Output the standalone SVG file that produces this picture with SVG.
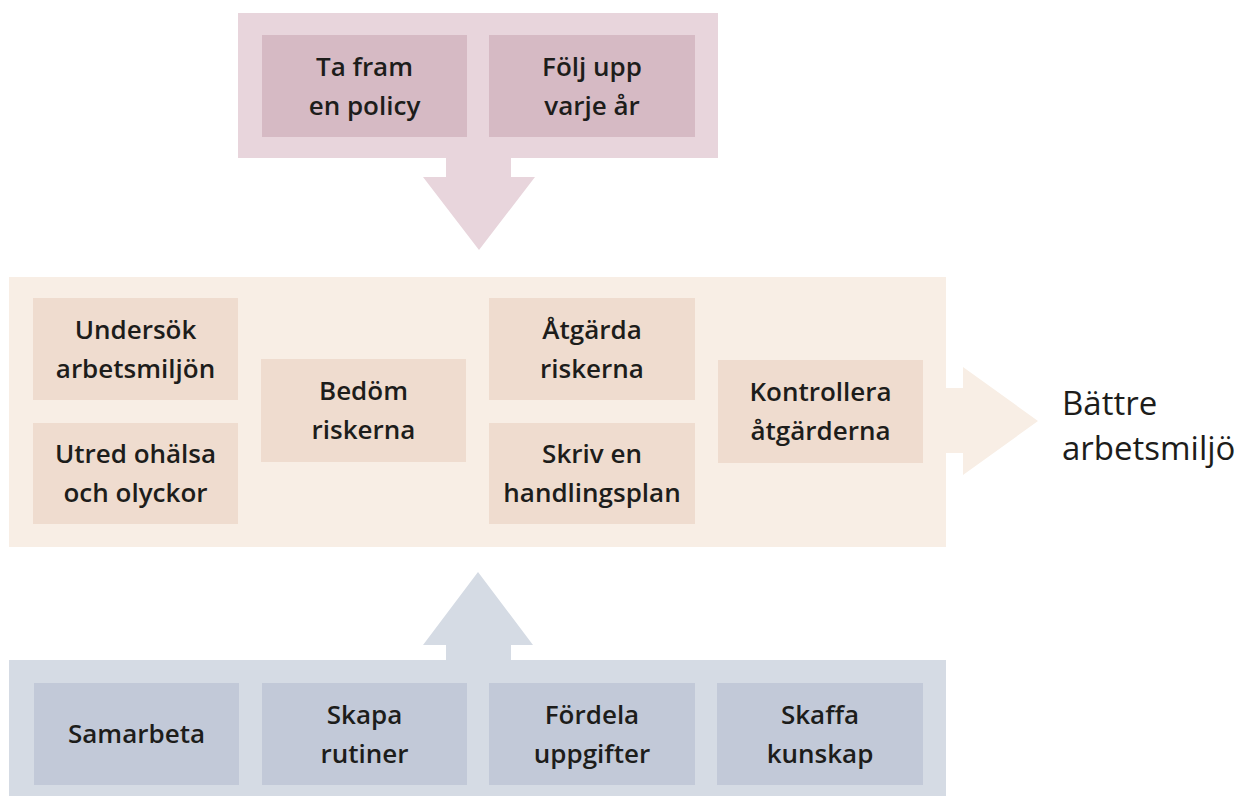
<svg xmlns="http://www.w3.org/2000/svg" width="1242" height="798" viewBox="0 0 1242 798">
<style>
.t{font-family:"Open Sans","Liberation Sans",sans-serif;font-weight:600;font-size:26px;fill:#1d1d1b;text-anchor:middle}
.out{font-family:"Open Sans","Liberation Sans",sans-serif;font-weight:400;font-size:33px;fill:#1d1d1b}
.pinkO{fill:#e8d5dc}.pinkI{fill:#d6bac4}
.begeO{fill:#f8eee5}.begeI{fill:#efdccf}
.blueO{fill:#d5dbe4}.blueI{fill:#c2c9d8}
</style>
<rect width="1242" height="798" fill="#ffffff"/>
<g id="connectors">
<polygon class="pinkO" points="446,157 511,157 511,177 535,177 479,250 423,177 446,177"/>
<polygon class="begeO" points="945,388 963,388 963,367 1038,421 963,475 963,453 945,453"/>
<polygon class="blueO" points="446,661 446,645 423,645 478,572 533,645 511,645 511,661"/>
</g>
<g id="policy-group">
<rect class="pinkO" x="238" y="13" width="480" height="145"/>
</g>
<g id="ta-fram">
<rect class="pinkI" x="262" y="35" width="205" height="102"/>
<text class="t" x="364.5" y="75.5">Ta fram</text>
<text class="t" x="364.5" y="114.5">en policy</text>
</g>
<g id="folj-upp">
<rect class="pinkI" x="489" y="35" width="206" height="102"/>
<text class="t" x="592" y="75.5">Följ upp</text>
<text class="t" x="592" y="114.5">varje år</text>
</g>
<g id="process-group">
<rect class="begeO" x="9" y="277" width="937" height="270"/>
</g>
<g id="undersok">
<rect class="begeI" x="33" y="298" width="205" height="102"/>
<text class="t" x="135.5" y="338.5">Undersök</text>
<text class="t" x="135.5" y="377.5">arbetsmiljön</text>
</g>
<g id="utred">
<rect class="begeI" x="33" y="423" width="205" height="101"/>
<text class="t" x="135.5" y="463">Utred ohälsa</text>
<text class="t" x="135.5" y="502">och olyckor</text>
</g>
<g id="bedom">
<rect class="begeI" x="261" y="359" width="205" height="103"/>
<text class="t" x="363.5" y="400">Bedöm</text>
<text class="t" x="363.5" y="439">riskerna</text>
</g>
<g id="atgarda">
<rect class="begeI" x="489" y="298" width="206" height="102"/>
<text class="t" x="592" y="338.5">Åtgärda</text>
<text class="t" x="592" y="377.5">riskerna</text>
</g>
<g id="skriv">
<rect class="begeI" x="489" y="423" width="206" height="101"/>
<text class="t" x="592" y="463">Skriv en</text>
<text class="t" x="592" y="502">handlingsplan</text>
</g>
<g id="kontrollera">
<rect class="begeI" x="718" y="360" width="205" height="103"/>
<text class="t" x="820.5" y="401">Kontrollera</text>
<text class="t" x="820.5" y="440">åtgärderna</text>
</g>
<g id="result">
<text class="out" x="1062" y="415">Bättre</text>
<text class="out" x="1062" y="460">arbetsmiljö</text>
</g>
<g id="support-group">
<rect class="blueO" x="9" y="660" width="937" height="136"/>
</g>
<g id="samarbeta">
<rect class="blueI" x="34" y="683" width="205" height="102"/>
<text class="t" x="136.5" y="743">Samarbeta</text>
</g>
<g id="skapa">
<rect class="blueI" x="262" y="683" width="205" height="102"/>
<text class="t" x="364.5" y="723.5">Skapa</text>
<text class="t" x="364.5" y="762.5">rutiner</text>
</g>
<g id="fordela">
<rect class="blueI" x="489" y="683" width="206" height="102"/>
<text class="t" x="592" y="723.5">Fördela</text>
<text class="t" x="592" y="762.5">uppgifter</text>
</g>
<g id="skaffa">
<rect class="blueI" x="717" y="683" width="206" height="102"/>
<text class="t" x="820" y="723.5">Skaffa</text>
<text class="t" x="820" y="762.5">kunskap</text>
</g>
</svg>
